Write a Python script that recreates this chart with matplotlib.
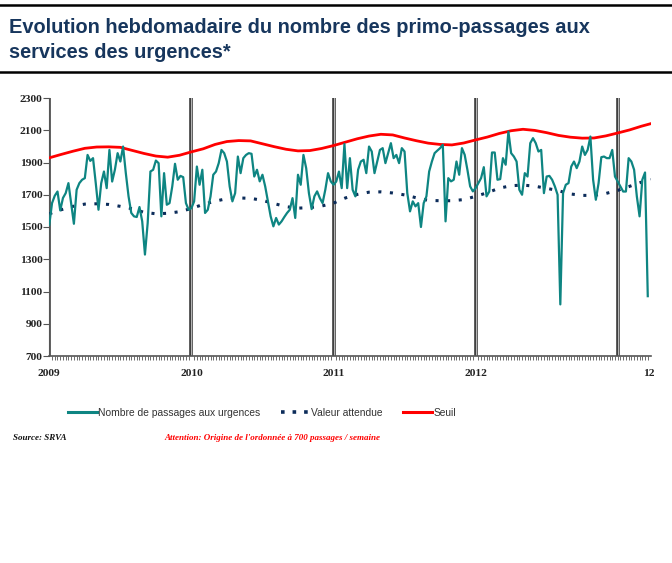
import numpy as np
import matplotlib
matplotlib.use('Agg')
import matplotlib.pyplot as plt
from matplotlib.lines import Line2D

# weekly first passages (one value per week, from week 1 of 2009)
passages_2009 = [1514, 1648, 1694, 1720, 1603, 1680, 1710, 1772, 1648, 1520,
                 1731, 1772, 1793, 1803, 1947, 1910, 1927, 1772, 1607, 1772,
                 1844, 1741, 1978, 1782, 1855, 1958, 1906, 1999, 1834, 1690,
                 1587, 1566, 1562, 1624, 1535, 1329, 1525, 1844, 1855, 1912,
                 1896, 1566, 1834, 1638, 1648, 1752, 1892, 1793, 1817, 1809,
                 1648, 1607]
passages_2010 = [1617, 1659, 1875, 1762, 1855, 1587, 1607, 1690, 1824, 1844,
                 1896, 1978, 1958, 1906, 1752, 1659, 1710, 1937, 1834, 1927,
                 1947, 1958, 1954, 1813, 1855, 1783, 1824, 1752, 1659, 1566,
                 1504, 1556, 1515, 1535, 1562, 1587, 1607, 1679, 1556, 1824,
                 1762, 1947, 1865, 1710, 1611, 1690, 1721, 1679, 1648, 1731,
                 1834, 1783]
passages_2011 = [1762, 1782, 1844, 1741, 2015, 1741, 1927, 1731, 1690, 1855,
                 1906, 1917, 1834, 1999, 1968, 1834, 1906, 1978, 1989, 1896,
                 1958, 2020, 1927, 1947, 1896, 1989, 1968, 1710, 1597, 1659,
                 1628, 1648, 1500, 1648, 1690, 1844, 1906, 1958, 1974, 1989,
                 2010, 1535, 1803, 1783, 1793, 1906, 1824, 1989, 1948, 1855,
                 1752, 1721]
passages_2012 = [1741, 1772, 1803, 1871, 1690, 1720, 1962, 1962, 1793, 1797,
                 1927, 1886, 2092, 1958, 1937, 1906, 1731, 1700, 1834, 1813,
                 2020, 2051, 2020, 1968, 1978, 1710, 1813, 1817, 1793, 1752,
                 1700, 1020, 1710, 1762, 1772, 1875, 1906, 1865, 1906, 1999,
                 1947, 1978, 2061, 1793, 1669, 1772, 1933, 1937, 1927, 1927,
                 1978, 1813]
passages_2013 = [1782, 1752, 1720, 1720, 1927, 1906, 1855, 1690, 1566, 1793,
                 1838, 1071]
passages = passages_2009 + passages_2010 + passages_2011 + passages_2012 + passages_2013

# monthly expected value and threshold (Jan 2009 ...)
expected = [1582, 1607, 1628, 1642, 1644, 1640, 1628, 1613, 1591, 1582, 1585, 1595,
            1615, 1640, 1660, 1676, 1680, 1678, 1665, 1645, 1626, 1617, 1620, 1630,
            1648, 1680, 1702, 1716, 1718, 1711, 1699, 1681, 1665, 1663, 1663, 1670,
            1690, 1713, 1741, 1756, 1760, 1753, 1740, 1725, 1705, 1696, 1696, 1708,
            1727, 1752, 1778, 1795]
threshold = [1929, 1950, 1970, 1988, 1996, 1997, 1994, 1975, 1956, 1940, 1933, 1945,
             1966, 1985, 2012, 2030, 2036, 2034, 2016, 1998, 1982, 1972, 1974, 1987,
             2005, 2026, 2047, 2064, 2075, 2071, 2052, 2035, 2020, 2012, 2009, 2021,
             2040, 2058, 2080, 2097, 2106, 2099, 2085, 2068, 2057, 2051, 2052, 2065,
             2083, 2102, 2125, 2145]

year_labels = ['2009', '2010', '2011', '2012', '12']
year_starts = [0, 52, 104, 156, 208]

teal = '#0e8582'
navy = '#0c2c5a'
red = '#ff0000'

fig = plt.figure(figsize=(6.72, 5.63), dpi=100)
ax = fig.add_axes([49.3 / 672, (563 - 356) / 563, (650.5 - 49.3) / 672, (356 - 98) / 563])

wk = np.arange(len(passages))
mo = np.arange(len(expected)) * 52 / 12

for xs in year_starts:
    ax.axvline(xs, color='#3a3a3a', lw=2.6, zorder=1)
    ax.axvline(xs, color='#b5b5b5', lw=0.8, zorder=1)

ax.plot(mo, threshold, color=red, lw=2.0, zorder=3)
ax.plot(mo, expected, color=navy, lw=2.2, linestyle=(0, (1.0, 2.8)), zorder=3)
ax.plot(wk, passages, color=teal, lw=1.6, zorder=4)

ax.set_xlim(0, 220)
ax.set_ylim(700, 2300)
ax.set_yticks(np.arange(700, 2301, 200))
ax.set_xticks(year_starts[:4] + [219.5])
ax.set_xticklabels(year_labels)
ax.set_xticks(np.arange(0, 220, 1), minor=True)

for s in ['top', 'right']:
    ax.spines[s].set_visible(False)
ax.spines['left'].set_color('#555555')
ax.spines['bottom'].set_color('#555555')
ax.spines['bottom'].set_linewidth(1.2)

serif = ['Liberation Serif', 'DejaVu Serif']
ax.tick_params(axis='y', direction='out', length=4, width=0.8, color='#555555', pad=1)
ax.tick_params(axis='x', which='major', length=0, pad=9)
ax.tick_params(axis='x', which='minor', direction='out', length=3, width=0.6, color='#555555')
for lab in ax.get_yticklabels() + ax.get_xticklabels():
    lab.set_fontfamily(serif)
    lab.set_fontweight('bold')
    lab.set_fontsize(8.2)
    lab.set_color('#222222')

# title block
fig.add_artist(Line2D([0, 1], [1 - 5 / 563, 1 - 5 / 563], color='black', lw=1.8))
fig.add_artist(Line2D([0, 1], [1 - 72 / 563, 1 - 72 / 563], color='black', lw=1.8))
fig.text(9 / 672, 1 - 33 / 563, 'Evolution hebdomadaire du nombre des primo-passages aux',
         fontsize=14.4, fontweight='bold', color='#17365d', family='Liberation Sans',
         va='baseline')
fig.text(9 / 672, 1 - 58 / 563, 'services des urgences*',
         fontsize=14.4, fontweight='bold', color='#17365d', family='Liberation Sans',
         va='baseline')

handles = [Line2D([], [], color=teal, lw=2.2),
           Line2D([], [], color=navy, lw=2.6, linestyle=(0, (1.0, 2.2))),
           Line2D([], [], color=red, lw=2.2)]
labels = ['Nombre de passages aux urgences', 'Valeur attendue', 'Seuil']
fig.legend(handles, labels, loc='center', bbox_to_anchor=(262 / 672, 1 - 413 / 563),
           ncol=3, frameon=False, handlelength=2.8, handletextpad=0.15,
           columnspacing=2.0, prop={'family': 'Liberation Sans', 'size': 7.4},
           labelcolor='#333333')

fig.text(13 / 672, 1 - 438 / 563, 'Source: SRVA', fontsize=6.5, fontweight='bold',
         style='italic', family=serif, va='center', color='#111111')
fig.text(272 / 672, 1 - 438 / 563,
         "Attention: Origine de l'ordonnée à 700 passages / semaine",
         fontsize=6.5, fontweight='bold', style='italic', family=serif,
         va='center', ha='center', color=red)

fig.savefig('out.png', dpi=100)
